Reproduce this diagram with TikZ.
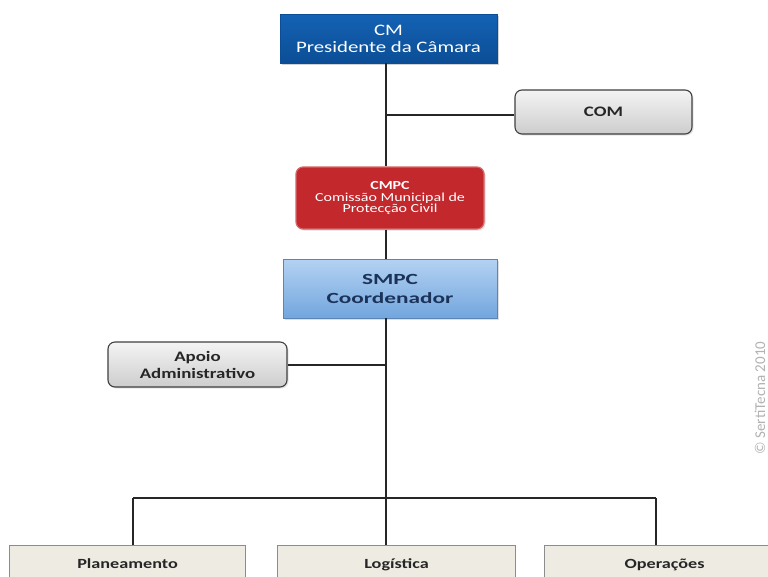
\documentclass[tikz,border=0pt]{standalone}
\usepackage{fontspec}
\setmainfont[FakeStretch=1.3]{Carlito}
\newfontfamily\widerfont[FakeStretch=1.5]{Carlito}
\newfontfamily\plainfont{Carlito}
\usetikzlibrary{shadows}
\definecolor{cmblue}{HTML}{1462B4}
\definecolor{cmbluedk}{HTML}{0B4E96}
\definecolor{cmpcred}{HTML}{C3282C}
\definecolor{smpctop}{HTML}{B4D2F2}
\definecolor{smpcbot}{HTML}{72A6DE}
\definecolor{navy}{HTML}{1B3358}
\definecolor{greytop}{HTML}{F4F4F4}
\definecolor{greybot}{HTML}{CDCDCD}
\definecolor{beige}{HTML}{EEECE2}
\tikzset{
  x=1pt, y=-1pt,
  conn/.style={draw=black!85, line width=1.1pt},
  cmbox/.style={draw=cmbluedk, line width=0.6pt, top color=cmblue, bottom color=cmbluedk,
    text=white, font=\fontsize{16}{17}\selectfont, align=center, inner sep=0pt,
    drop shadow={shadow xshift=1.5pt, shadow yshift=-1.5pt, opacity=0.35}},
  cmpcbox/.style={draw=cmpcred!70, line width=1.2pt, fill=cmpcred, rounded corners=7pt,
    text=white, font=\fontsize{12.3}{12.5}\selectfont, align=center, inner sep=0pt,
    drop shadow={shadow xshift=1.5pt, shadow yshift=-1.5pt, opacity=0.25}},
  smpcbox/.style={draw=smpcbot!80!black, line width=0.4pt, top color=smpctop, bottom color=smpcbot,
    text=navy, font=\widerfont\bfseries\fontsize{15.5}{19}\selectfont, align=center, inner sep=0pt,
    drop shadow={shadow xshift=1.5pt, shadow yshift=-1.5pt, opacity=0.25}},
  greybox/.style={draw=black!75, line width=1.1pt, rounded corners=7pt, top color=greytop, bottom color=greybot,
    text=black!85, font=\bfseries\fontsize{14.5}{17}\selectfont, align=center, inner sep=0pt,
    drop shadow={shadow xshift=1.5pt, shadow yshift=-1.5pt, opacity=0.2}},
  areabox/.style={draw=black!45, line width=1.1pt, fill=beige,
    text=black!85, font=\bfseries\fontsize{14}{16}\selectfont, align=center, inner sep=0pt},
}
\begin{document}
\begin{tikzpicture}
\useasboundingbox (0,0) rectangle (768,576);
\clip (0,0) rectangle (768,576);
\fill[white] (0,0) rectangle (768,576);

% structure boxes
\node[cmbox, minimum width=217pt, minimum height=49pt] (cm) at (388.5,38.5)
  {CM\\Presidente da Câmara};
\node[greybox, minimum width=177pt, minimum height=44pt] (com) at (603.5,112)
  {COM};
\node[cmpcbox, minimum width=188pt, minimum height=62pt] (cmpc) at (390,198)
  {\textbf{CMPC}\\[-1pt]Comissão Municipal de\\[-1pt]Protecção Civil};
\node[smpcbox, minimum width=214pt, minimum height=59pt] (smpc) at (390,288.5)
  {SMPC\\Coordenador};
\node[greybox, minimum width=179pt, minimum height=45pt] (apoio) at (197.5,364.5)
  {Apoio\\Administrativo};

% functional areas
\node[areabox, minimum width=236pt, minimum height=50pt, anchor=north west] (plan) at (9,545)
  {\raisebox{13pt}{Planeamento}};
\node[areabox, minimum width=238pt, minimum height=50pt, anchor=north west] (log) at (277,545)
  {\raisebox{13pt}{Logística}};
\node[areabox, minimum width=240pt, minimum height=50pt, anchor=north west] (ops) at (544,545)
  {\raisebox{13pt}{Operações}};

% junction points
\coordinate (jcom) at (386,115);
\coordinate (japoio) at (386,365);
\coordinate (jbus) at (386,498);
\coordinate (jplan) at (133,498);
\coordinate (jops) at (656,498);

% connectors
\draw[conn] (cm.south -| jcom) -- (cmpc.north -| jcom);
\draw[conn] (jcom) -- (com.west |- jcom);
\draw[conn] (cmpc.south -| jcom) -- (smpc.north -| jcom);
\draw[conn] (smpc.south -| jcom) -- (jbus);
\draw[conn] (apoio.east |- japoio) -- (japoio);
\draw[conn] (jplan) -- (jops);
\draw[conn] (jplan) -- (plan.north -| jplan);
\draw[conn] (jbus) -- (log.north -| jbus);
\draw[conn] (jops) -- (ops.north -| jops);

% copyright mark
\node[rotate=90, text=black!30, font=\plainfont\fontsize{15}{17}\selectfont, anchor=center] (copy) at (760,398)
  {© SertiTecna 2010};
\end{tikzpicture}
\end{document}
